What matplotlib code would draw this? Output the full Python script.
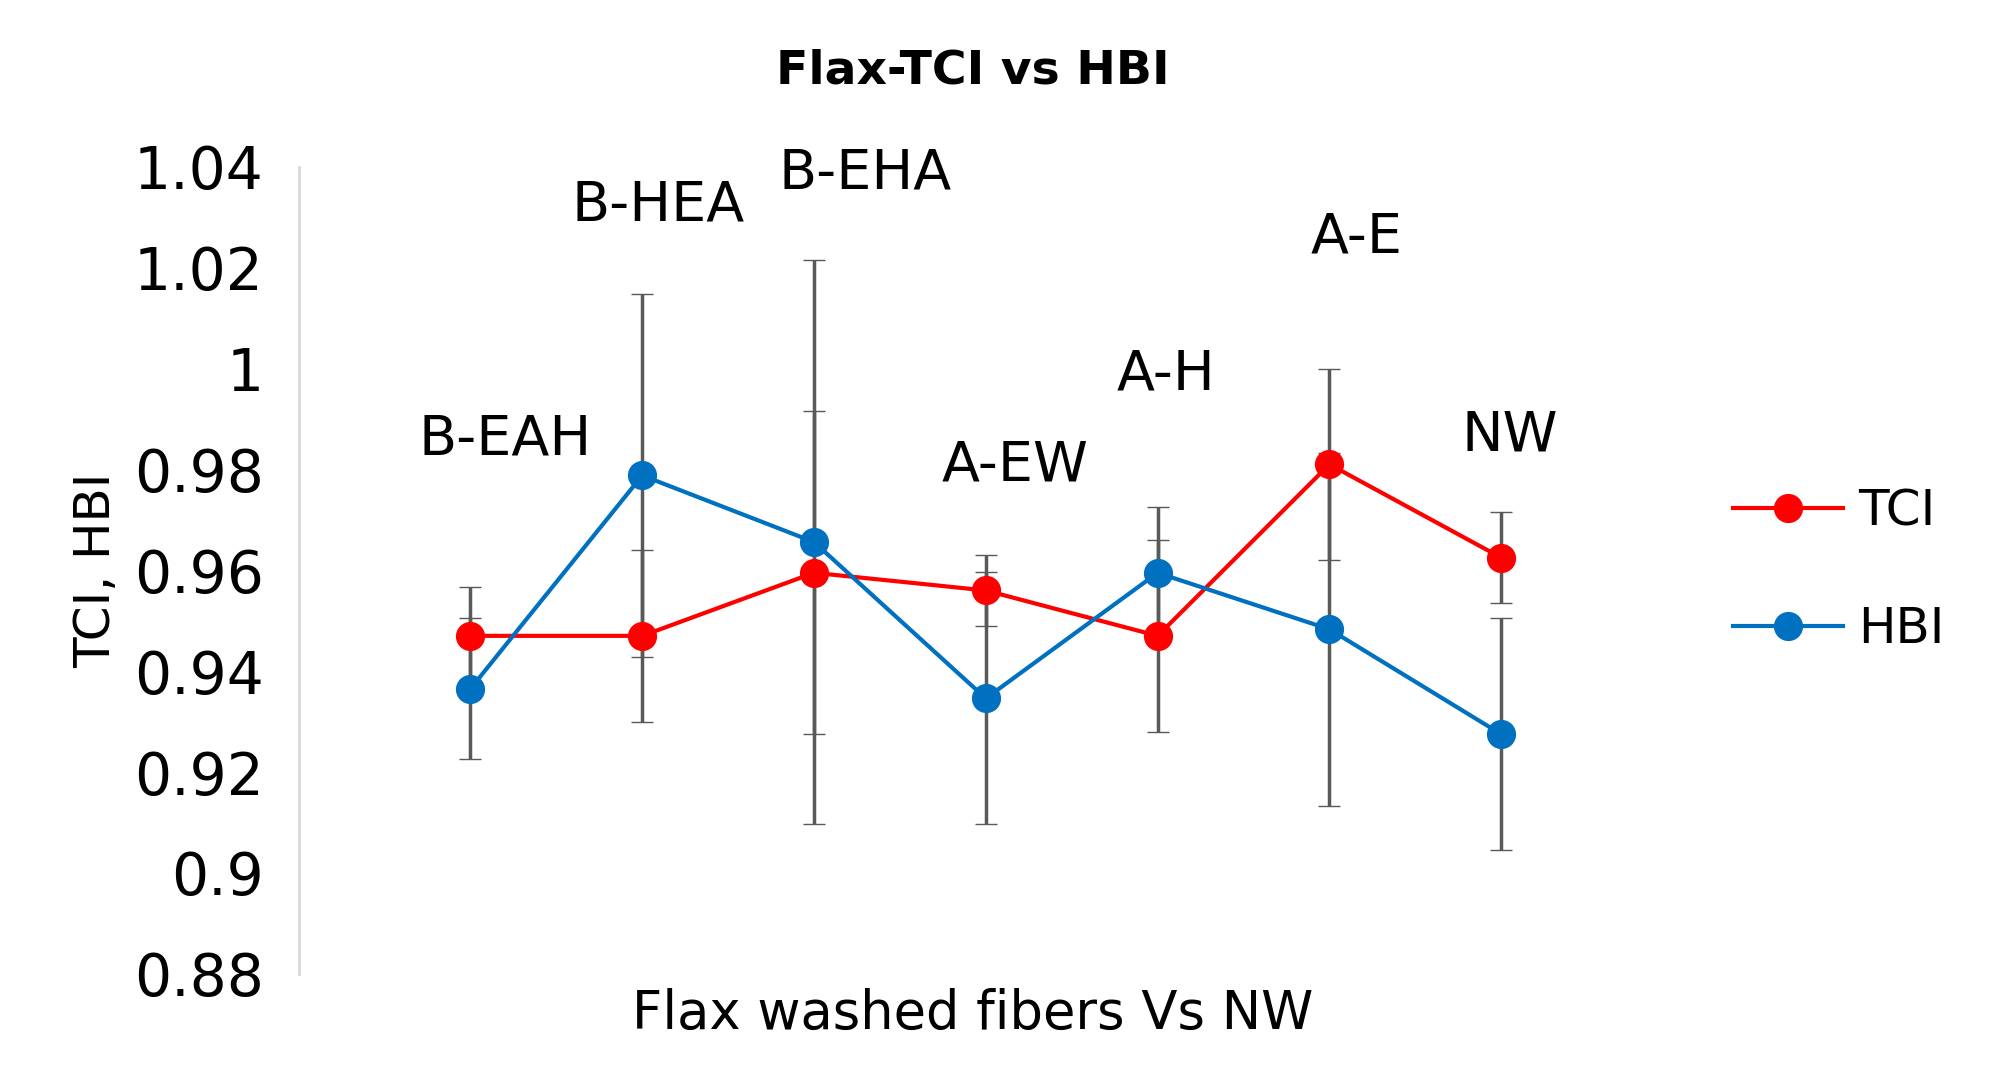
import matplotlib
matplotlib.use("Agg")
import matplotlib.pyplot as plt
import numpy as np

cats = ["B-EAH", "B-HEA", "B-EHA", "A-EW", "A-H", "A-E", "NW"]
tci = [0.947, 0.947, 0.9595, 0.956, 0.947, 0.981, 0.9625]
tci_err = [0.0097, 0.017, 0.032, 0.007, 0.019, 0.019, 0.009]
hbi = [0.9365, 0.9788, 0.9656, 0.9346, 0.9595, 0.9483, 0.9275]
hbi_err = [0.014, 0.036, 0.056, 0.025, 0.013, 0.035, 0.023]
label_dx = [0.2, 0.09, 0.3, 0.17, 0.05, 0.16, 0.05]
label_y = [0.9859, 1.0324, 1.0387, 0.9808, 0.9989, 1.026, 0.9867]

fig = plt.figure(figsize=(20.04, 10.76), dpi=100)
ax = fig.add_axes([0.149, 0.095, 0.673, 0.75])
x = np.arange(len(cats))
ax.errorbar(x, tci, yerr=tci_err, fmt="none", ecolor="#595959", elinewidth=2.5, capsize=8, zorder=2)
ax.errorbar(x, hbi, yerr=hbi_err, fmt="none", ecolor="#595959", elinewidth=2.5, capsize=8, zorder=2)
ax.plot(x, tci, color="#ff0000", lw=3, marker="o", ms=20, label="TCI", zorder=3)
ax.plot(x, hbi, color="#0070c0", lw=3, marker="o", ms=20, label="HBI", zorder=3)
for xi, c, dx, ly in zip(x, cats, label_dx, label_y):
    ax.text(xi + dx, ly, c, ha="center", va="center", fontsize=40)
ax.set_xlim(-1.0, 6.85)
ax.set_ylim(0.88, 1.04)
ax.set_yticks(np.arange(0.88, 1.041, 0.02))
ax.set_yticklabels(["0.88", "0.9", "0.92", "0.94", "0.96", "0.98", "1", "1.02", "1.04"])
ax.set_xticks([])
for s in ["top", "right", "bottom"]:
    ax.spines[s].set_visible(False)
ax.spines["left"].set_color("#d9d9d9")
ax.spines["left"].set_linewidth(2)
ax.tick_params(axis="y", length=0, labelsize=42, pad=25)
ax.set_ylabel("TCI, HBI", fontsize=36, labelpad=10)
ax.set_xlabel("Flax washed fibers Vs NW", fontsize=38, labelpad=10)
ax.set_title("Flax-TCI vs HBI", fontsize=34, fontweight="bold", pad=60)
ax.legend(loc="center left", bbox_to_anchor=(1.03, 0.5), frameon=False,
          fontsize=36, handlelength=2.2, labelspacing=1.4, handletextpad=0.3)
fig.savefig("out.png", dpi=100)
